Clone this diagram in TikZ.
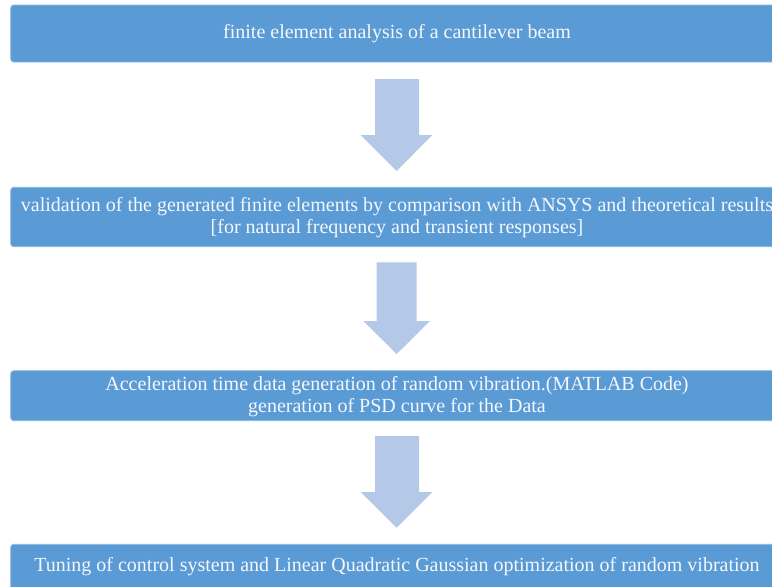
\documentclass[tikz,border=0pt]{standalone}
\usepackage{fontspec}
\setmainfont{Liberation Serif}
\definecolor{boxblue}{HTML}{5B9BD5}
\definecolor{boxedge}{HTML}{8DB8E2}
\definecolor{arrowblue}{HTML}{B4C8E8}
\definecolor{txt}{HTML}{F4F7FC}
\begin{document}
\begin{tikzpicture}[x=1pt,y=-1pt,
  stepbox/.style={fill=boxblue,draw=boxedge,line width=0.8pt,rounded corners=3pt},
  steptext/.style={text=txt,font=\fontsize{20}{22.5}\selectfont,align=center,anchor=center,inner sep=0pt},
  blockarrow/.style={fill=arrowblue,draw=none}]
\useasboundingbox (0,0) rectangle (772,587);
\clip (0,0) rectangle (772,587);
% boxes
\draw[stepbox] (10.7,5) rectangle (784,62);
\node[steptext] (t1) at (397,34) {finite element analysis of a cantilever beam};
\draw[stepbox] (10.7,187.3) rectangle (784,246.7);
\node[steptext] (t2) at (397,217.5) {validation of the generated finite elements by comparison with ANSYS and theoretical results\\ {[}for natural frequency and transient responses{]}};
\draw[stepbox] (10.7,370.7) rectangle (784,420.7);
\node[steptext] (t3) at (397,396.5) {Acceleration time data generation of random vibration.(MATLAB Code)\\ generation of PSD curve for the Data};
\draw[stepbox] (10.7,544.3) rectangle (784,592);
\node[steptext] (t4) at (397,567) {Tuning of control system and Linear Quadratic Gaussian optimization of random vibration};
% arrows
\fill[blockarrow] (375,79) -- (419,79) -- (419,135) -- (432.3,135) -- (396.7,171) -- (360.7,135) -- (375,135) -- cycle;
\fill[blockarrow] (376.7,262.3) -- (416.7,262.3) -- (416.7,321) -- (430,321) -- (396.7,354) -- (363.3,321) -- (376.7,321) -- cycle;
\fill[blockarrow] (375,436) -- (419,436) -- (419,492) -- (432.3,492) -- (396.7,527.7) -- (360.7,492) -- (375,492) -- cycle;
\end{tikzpicture}
\end{document}
